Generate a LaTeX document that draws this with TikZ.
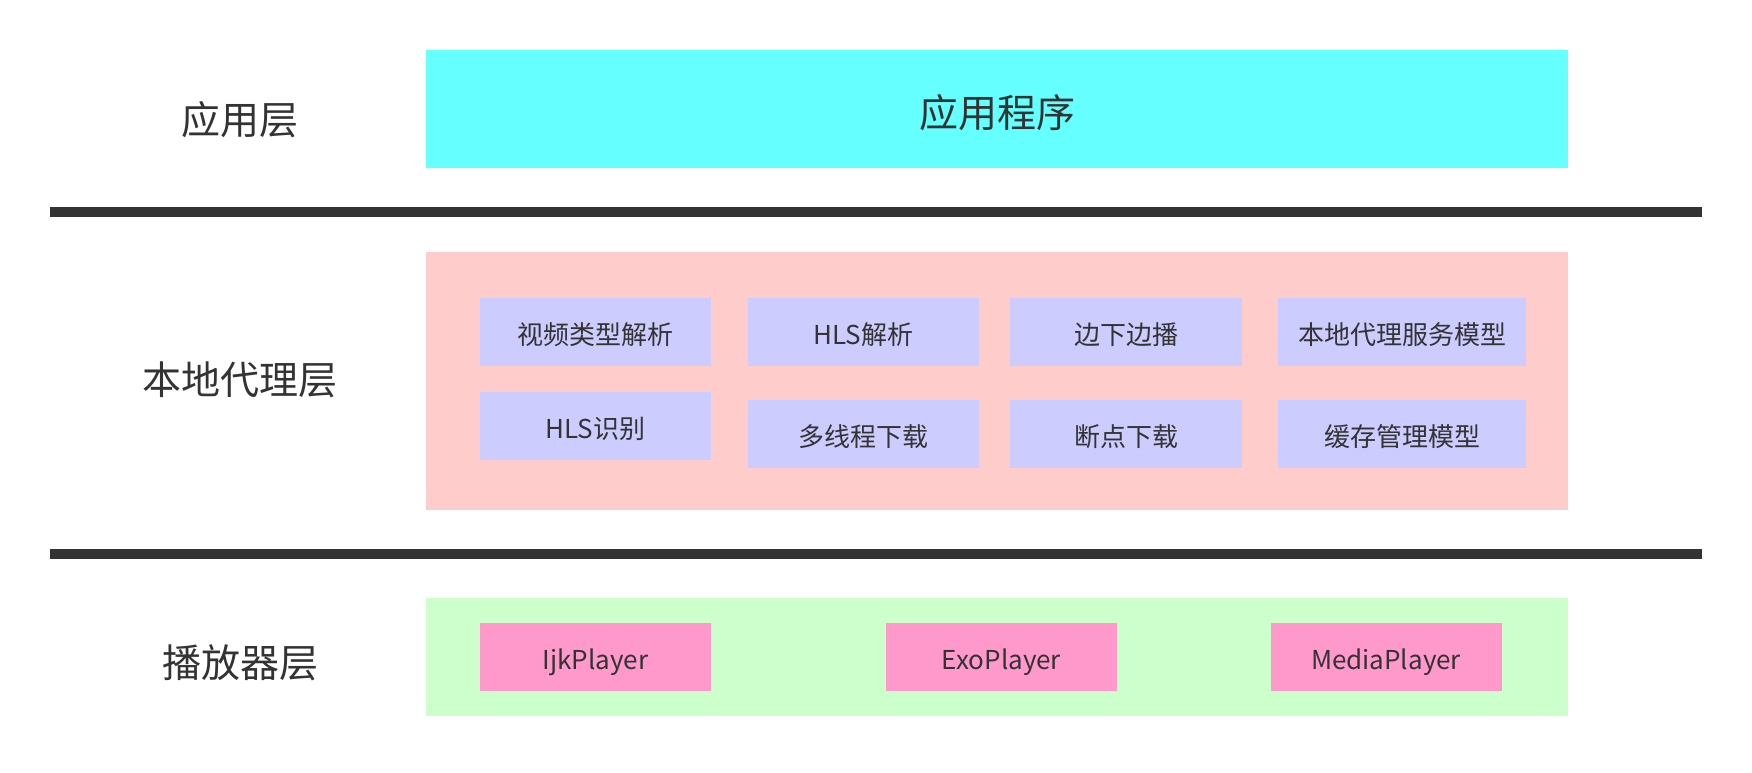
\documentclass[tikz,border=0pt]{standalone}
\usepackage{fontspec}
\setmainfont{Noto Sans CJK SC}
\definecolor{txt}{HTML}{333333}
\definecolor{appcyan}{HTML}{66FFFF}
\definecolor{proxypink}{HTML}{FFCCCC}
\definecolor{itemblue}{HTML}{CCCCFF}
\definecolor{playgreen}{HTML}{CCFFCC}
\definecolor{playpink}{HTML}{FF99CC}
\begin{document}
\begin{tikzpicture}[x=1pt,y=-1pt,
		layer/.style={inner sep=0pt, minimum width=1142pt, text=txt, text height=36.5pt, text depth=0pt, font=\fontsize{39}{39}\selectfont},
		item/.style={fill=itemblue, inner sep=0pt, minimum width=231pt, minimum height=68pt, text=txt, text height=24.5pt, text depth=0pt, font=\fontsize{26}{26}\selectfont},
		lbl/.style={text=txt, text height=36.5pt, text depth=0pt, font=\fontsize{39}{39}\selectfont}]
		\useasboundingbox (0,0) rectangle (1752,772);
		\fill[white] (0,0) rectangle (1752,772);
		\node[lbl] (la) at (240,116) {应用层};
		\node[lbl] (lp) at (240,376) {本地代理层};
		\node[lbl] (lr) at (240,659) {播放器层};
		\node[layer, fill=appcyan, minimum height=118pt] (app) at (997,109) {应用程序};
		\fill[txt] (50,207) rectangle (1702,217);
		\node[layer, fill=proxypink, minimum height=258pt] (proxy) at (997,381) {};
		\node[item] (v1) at (595.5,332) {视频类型解析};
		\node[item] (v2) at (863.5,332) {HLS解析};
		\node[item, minimum width=232pt] (v3) at (1126,332) {边下边播};
		\node[item, minimum width=248pt] (v4) at (1402,332) {本地代理服务模型};
		\node[item] (w1) at (595.5,426) {HLS识别};
		\node[item] (w2) at (863.5,434) {多线程下载};
		\node[item, minimum width=232pt] (w3) at (1126,434) {断点下载};
		\node[item, minimum width=248pt] (w4) at (1402,434) {缓存管理模型};
		\fill[txt] (50,549) rectangle (1702,559);
		\node[layer, fill=playgreen, minimum height=118pt] (player) at (997,657) {};
		\node[item, fill=playpink] (p1) at (595.5,657) {IjkPlayer};
		\node[item, fill=playpink] (p2) at (1001.5,657) {ExoPlayer};
		\node[item, fill=playpink] (p3) at (1386,657) {MediaPlayer};
	\end{tikzpicture}
\end{document}
